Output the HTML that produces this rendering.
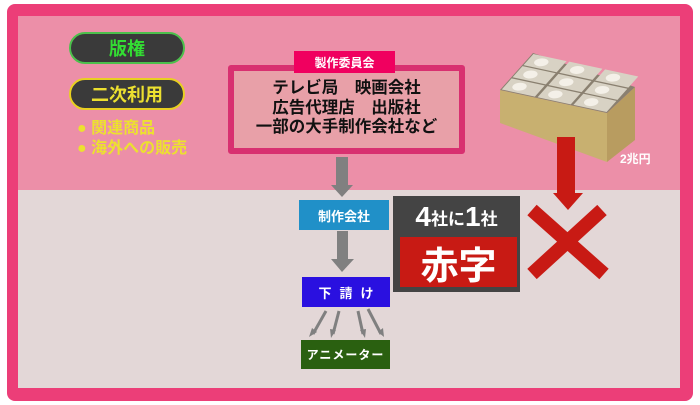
<!DOCTYPE html>
<html><head><meta charset="utf-8"><style>
body{margin:0;width:700px;height:405px;background:#fff;position:relative;overflow:hidden;font-family:"Liberation Sans","Noto Sans CJK JP",sans-serif;font-weight:bold}
div{position:absolute;box-sizing:border-box}
.c{display:flex;align-items:center;justify-content:center;color:#fff}
</style></head><body>
<div style="left:7px;top:4px;width:686px;height:397px;background:#ec3e78;border-radius:8px"></div>
<div style="left:18px;top:16px;width:662px;height:174px;background:#ec8fa8"></div>
<div style="left:18px;top:190px;width:662px;height:198px;background:#e3d7d7"></div>

<div class="c" style="left:69px;top:32px;width:116px;height:32px;background:#3a3a3a;border:2px solid #4cc04c;border-radius:16px;color:#33dd33;font-size:18px">版権</div>
<div class="c" style="left:69px;top:78px;width:116px;height:32px;background:#3a3a3a;border:2px solid #e8d020;border-radius:16px;color:#ece030;font-size:18px">二次利用</div>
<div style="left:77px;top:119px;color:#ece030;font-size:16px;line-height:20px">● 関連商品<br>● 海外への販売</div>

<div style="left:228px;top:65px;width:237px;height:89px;background:#e8a0a8;border:6px solid #d83070;border-radius:3px"></div>
<div class="c" style="left:294px;top:51px;width:101px;height:22px;background:#f0005f;font-size:12px">製作委員会</div>
<div style="left:234px;top:79px;width:225px;text-align:center;font-size:16.5px;line-height:19.5px;color:#111">テレビ局　映画会社<br>広告代理店　出版社<br>一部の大手制作会社など</div>

<svg style="position:absolute;left:0;top:0" width="700" height="405">
<g fill="#808080"><rect x="336" y="157" width="12" height="30"/><polygon points="331,185 353,185 342,197"/>
<rect x="337" y="231" width="11" height="30"/><polygon points="331,259 354,259 342,272"/></g>
<g stroke="#808080" stroke-width="3" fill="none"><line x1="326" y1="311" x2="313" y2="334"/><line x1="339" y1="311" x2="333" y2="334"/><line x1="358" y1="311" x2="363" y2="334"/><line x1="368" y1="309" x2="381" y2="334"/></g>
<g fill="#808080"><polygon points="309,337 312,328 317,332"/><polygon points="331,338 330,329 336,330"/><polygon points="365,338 360,330 366,329"/><polygon points="384,337 378,332 383,328"/></g>
<polygon points="500,90 607,113 607,162 500,123" fill="#c8b070"/>
<polygon points="607,113 635,87 635,140 607,162" fill="#b89c60"/>
<polygon points="500,90 533,53 635,87 607,113" fill="#8a8070"/>
<g transform="matrix(107,23,33,-37,500,90)">
<g fill="#d8d2c4">
<rect x="0.01" y="0.02" width="0.31" height="0.3"/><rect x="0.345" y="0.02" width="0.31" height="0.3"/><rect x="0.68" y="0.02" width="0.31" height="0.3"/>
<rect x="0.01" y="0.35" width="0.31" height="0.3"/><rect x="0.345" y="0.35" width="0.31" height="0.3"/><rect x="0.68" y="0.35" width="0.31" height="0.3"/>
<rect x="0.01" y="0.68" width="0.31" height="0.3"/><rect x="0.345" y="0.68" width="0.31" height="0.3"/><rect x="0.68" y="0.68" width="0.31" height="0.3"/>
</g>
<g fill="#f4f0e8">
<ellipse cx="0.13" cy="0.17" rx="0.06" ry="0.1"/><ellipse cx="0.465" cy="0.17" rx="0.06" ry="0.1"/><ellipse cx="0.8" cy="0.17" rx="0.06" ry="0.1"/>
<ellipse cx="0.13" cy="0.5" rx="0.06" ry="0.1"/><ellipse cx="0.465" cy="0.5" rx="0.06" ry="0.1"/><ellipse cx="0.8" cy="0.5" rx="0.06" ry="0.1"/>
<ellipse cx="0.13" cy="0.83" rx="0.06" ry="0.1"/><ellipse cx="0.465" cy="0.83" rx="0.06" ry="0.1"/><ellipse cx="0.8" cy="0.83" rx="0.06" ry="0.1"/>
</g></g>
<rect x="557" y="137" width="18" height="58" fill="#c81a14"/>
<polygon points="553,193 583,193 568,210" fill="#c81a14"/>
<g stroke="#c81a14" stroke-width="14"><line x1="532" y1="210" x2="604" y2="274"/><line x1="602" y1="210" x2="532" y2="274"/></g>
</svg>
<div style="left:620px;top:150px;color:#fff;font-size:12px">2兆円</div>

<div class="c" style="left:299px;top:200px;width:90px;height:30px;background:#2090c8;font-size:13px">制作会社</div>
<div class="c" style="left:302px;top:277px;width:88px;height:30px;background:#2a10e0;font-size:13px;letter-spacing:8px;padding-left:8px">下請け</div>
<div class="c" style="left:301px;top:340px;width:89px;height:29px;background:#2a6010;font-size:12px;letter-spacing:1px">アニメーター</div>

<div style="left:393px;top:196px;width:127px;height:96px;background:#444"></div>
<div class="c" style="left:395px;top:198px;width:123px;height:38px;font-size:28px"><span>4</span><span style="font-size:17px">社に</span><span>1</span><span style="font-size:17px">社</span></div>
<div class="c" style="left:400px;top:237px;width:117px;height:50px;background:#c81a14;font-size:38px">赤字</div>
</body></html>
